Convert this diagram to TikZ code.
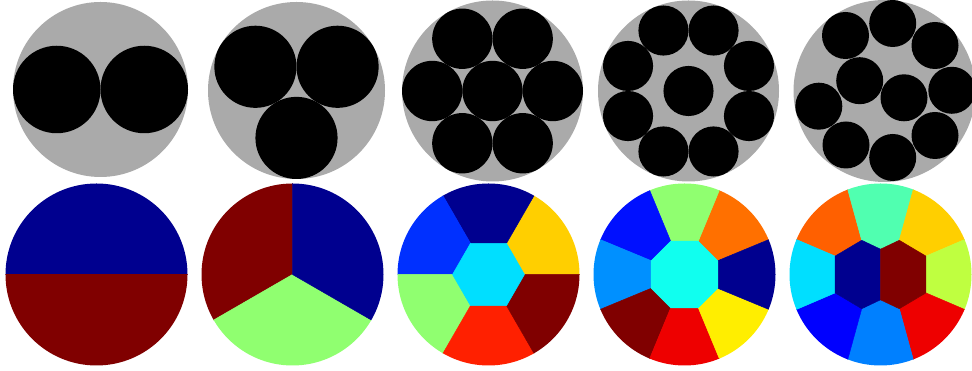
\documentclass[tikz,border=0pt]{standalone}
\definecolor{plategray}{RGB}{170,170,170}
\definecolor{navyc}{RGB}{0,0,143}
\definecolor{maroonc}{RGB}{128,0,0}
\definecolor{lgreen}{RGB}{144,255,112}
\definecolor{bluethree}{RGB}{0,48,255}
\definecolor{goldc}{RGB}{255,207,0}
\definecolor{redthree}{RGB}{255,32,0}
\definecolor{cyanc}{RGB}{0,223,255}
\definecolor{orangefour}{RGB}{255,112,0}
\definecolor{yellowfour}{RGB}{255,238,0}
\definecolor{redfour}{RGB}{238,0,0}
\definecolor{azurefour}{RGB}{0,144,255}
\definecolor{bluefour}{RGB}{0,16,255}
\definecolor{aquafour}{RGB}{16,255,239}
\definecolor{orangefive}{RGB}{255,96,0}
\definecolor{aquafive}{RGB}{80,255,176}
\definecolor{ygreenfive}{RGB}{191,255,64}
\definecolor{azurefive}{RGB}{0,128,255}
\definecolor{bluefive}{RGB}{0,0,255}
\begin{document}
\begin{tikzpicture}[x=1pt,y=1pt,
  plate/.style={fill=plategray},
  disk/.style={fill=black},
  cell/.style={fill=#1, draw=#1, line width=0.5pt, line join=round}]
\useasboundingbox (0,0) rectangle (972,371);
\fill[white] (0,0) rectangle (972,371);
\clip (0,0) rectangle (972,371);

% ---------- top row: disk packings ----------
\begin{scope}[shift={(100.5,281.5)}]
  \fill[plate] (0,0) circle[radius=87.5];
  \fill[disk] (-43.75,0) circle[radius=43.75];
  \fill[disk] (43.75,0) circle[radius=43.75];
\end{scope}

\begin{scope}[shift={(296.5,280.5)}]
  \fill[plate] (0,0) circle[radius=88.5];
  \foreach \a in {30,150,270} \fill[disk] (\a:47.43) circle[radius=41.07];
\end{scope}

\begin{scope}[shift={(492.5,280)}]
  \fill[plate] (0,0) circle[radius=90.5];
  \fill[disk] (0,0) circle[radius=30.17];
  \foreach \a in {0,60,120,180,240,300} \fill[disk] (\a:60.33) circle[radius=30.17];
\end{scope}

\begin{scope}[shift={(688.5,280)}]
  \fill[plate] (0,0) circle[radius=90.5];
  \fill[disk] (0,0) circle[radius=25.05];
  \foreach \a in {22.5,67.5,112.5,157.5,202.5,247.5,292.5,337.5} \fill[disk] (\a:65.45) circle[radius=25.05];
\end{scope}

\begin{scope}[shift={(884.5,280)}]
  \fill[plate] (0,0) circle[radius=91];
  \foreach \p in {(-39,55.5),(8.2,67.5),(50.5,45.5),(67.3,0.7),(-24.8,10.3),(19.5,-6.8),(-65.7,-15.2),(50.5,-44.5),(-38.5,-54),(8.2,-66.5)}
    \fill[disk] \p circle[radius=23.5];
\end{scope}

% ---------- bottom row: partitions ----------
\begin{scope}[shift={(96.5,96.5)}]
  \clip (0,0) circle[radius=91];
  \fill[cell=navyc] (-100,0) rectangle (100,100);
  \fill[cell=maroonc] (-100,-100) rectangle (100,0);
\end{scope}

\begin{scope}[shift={(292.5,96.5)}]
  \clip (0,0) circle[radius=91];
  \fill[cell=maroonc] (0,0) -- (90:100) arc[start angle=90, end angle=210, radius=100] -- cycle;
  \fill[cell=lgreen] (0,0) -- (210:100) arc[start angle=210, end angle=330, radius=100] -- cycle;
  \fill[cell=navyc] (0,0) -- (-30:100) arc[start angle=-30, end angle=90, radius=100] -- cycle;
\end{scope}

\begin{scope}[shift={(488.5,96.5)}]
  \clip (0,0) circle[radius=91];
  \foreach \a/\c in {0/goldc,60/navyc,120/bluethree,180/lgreen,240/redthree,300/maroonc}
    \fill[cell=\c] (0,0) -- (\a:100) arc[start angle=\a, delta angle=60, radius=100] -- cycle;
  \fill[cell=cyanc] (0:36) -- (60:36) -- (120:36) -- (180:36) -- (240:36) -- (300:36) -- cycle;
\end{scope}

\begin{scope}[shift={(684.5,96.5)}]
  \clip (0,0) circle[radius=91];
  \foreach \a/\c in {22.5/orangefour,67.5/lgreen,112.5/bluefour,157.5/azurefour,202.5/maroonc,247.5/redfour,292.5/yellowfour,337.5/navyc}
    \fill[cell=\c] (0,0) -- (\a:100) arc[start angle=\a, delta angle=45, radius=100] -- cycle;
  \fill[cell=aquafour] (22.5:36) -- (67.5:36) -- (112.5:36) -- (157.5:36) -- (202.5:36) -- (247.5:36) -- (292.5:36) -- (337.5:36) -- cycle;
\end{scope}

\begin{scope}[shift={(880.5,96.5)}]
  \clip (0,0) circle[radius=91];
  \coordinate (A) at (-45.4,18.4);
  \coordinate (B) at (-18.8,34.2);
  \coordinate (Ct) at (0,25.3);
  \coordinate (Cb) at (0,-25.3);
  \coordinate (D) at (-18.8,-34.2);
  \coordinate (E) at (-45.4,-18.4);
  \coordinate (A2) at (45.4,18.4);
  \coordinate (B2) at (18.8,34.2);
  \coordinate (D2) at (18.8,-34.2);
  \coordinate (E2) at (45.4,-18.4);
  \coordinate (F1) at (-158.2,66.7);
  \coordinate (F2) at (-59.9,183.6);
  \coordinate (F3) at (59.9,183.6);
  \coordinate (F4) at (158.2,66.7);
  \coordinate (F5) at (158.2,-66.7);
  \coordinate (F6) at (59.9,-183.6);
  \coordinate (F7) at (-59.9,-183.6);
  \coordinate (F8) at (-158.2,-66.7);
  \fill[cell=orangefive] (A) -- (F1) -- (F2) -- (B) -- cycle;
  \fill[cell=aquafive] (B) -- (F2) -- (F3) -- (B2) -- (Ct) -- cycle;
  \fill[cell=goldc] (B2) -- (F3) -- (F4) -- (A2) -- cycle;
  \fill[cell=ygreenfive] (A2) -- (F4) -- (F5) -- (E2) -- cycle;
  \fill[cell=redfour] (E2) -- (F5) -- (F6) -- (D2) -- cycle;
  \fill[cell=azurefive] (D2) -- (F6) -- (F7) -- (D) -- (Cb) -- cycle;
  \fill[cell=bluefive] (D) -- (F7) -- (F8) -- (E) -- cycle;
  \fill[cell=cyanc] (E) -- (F8) -- (F1) -- (A) -- cycle;
  \fill[cell=navyc] (A) -- (B) -- (Ct) -- (Cb) -- (D) -- (E) -- cycle;
  \fill[cell=maroonc] (Ct) -- (B2) -- (A2) -- (E2) -- (D2) -- (Cb) -- cycle;
\end{scope}
\end{tikzpicture}
\end{document}
